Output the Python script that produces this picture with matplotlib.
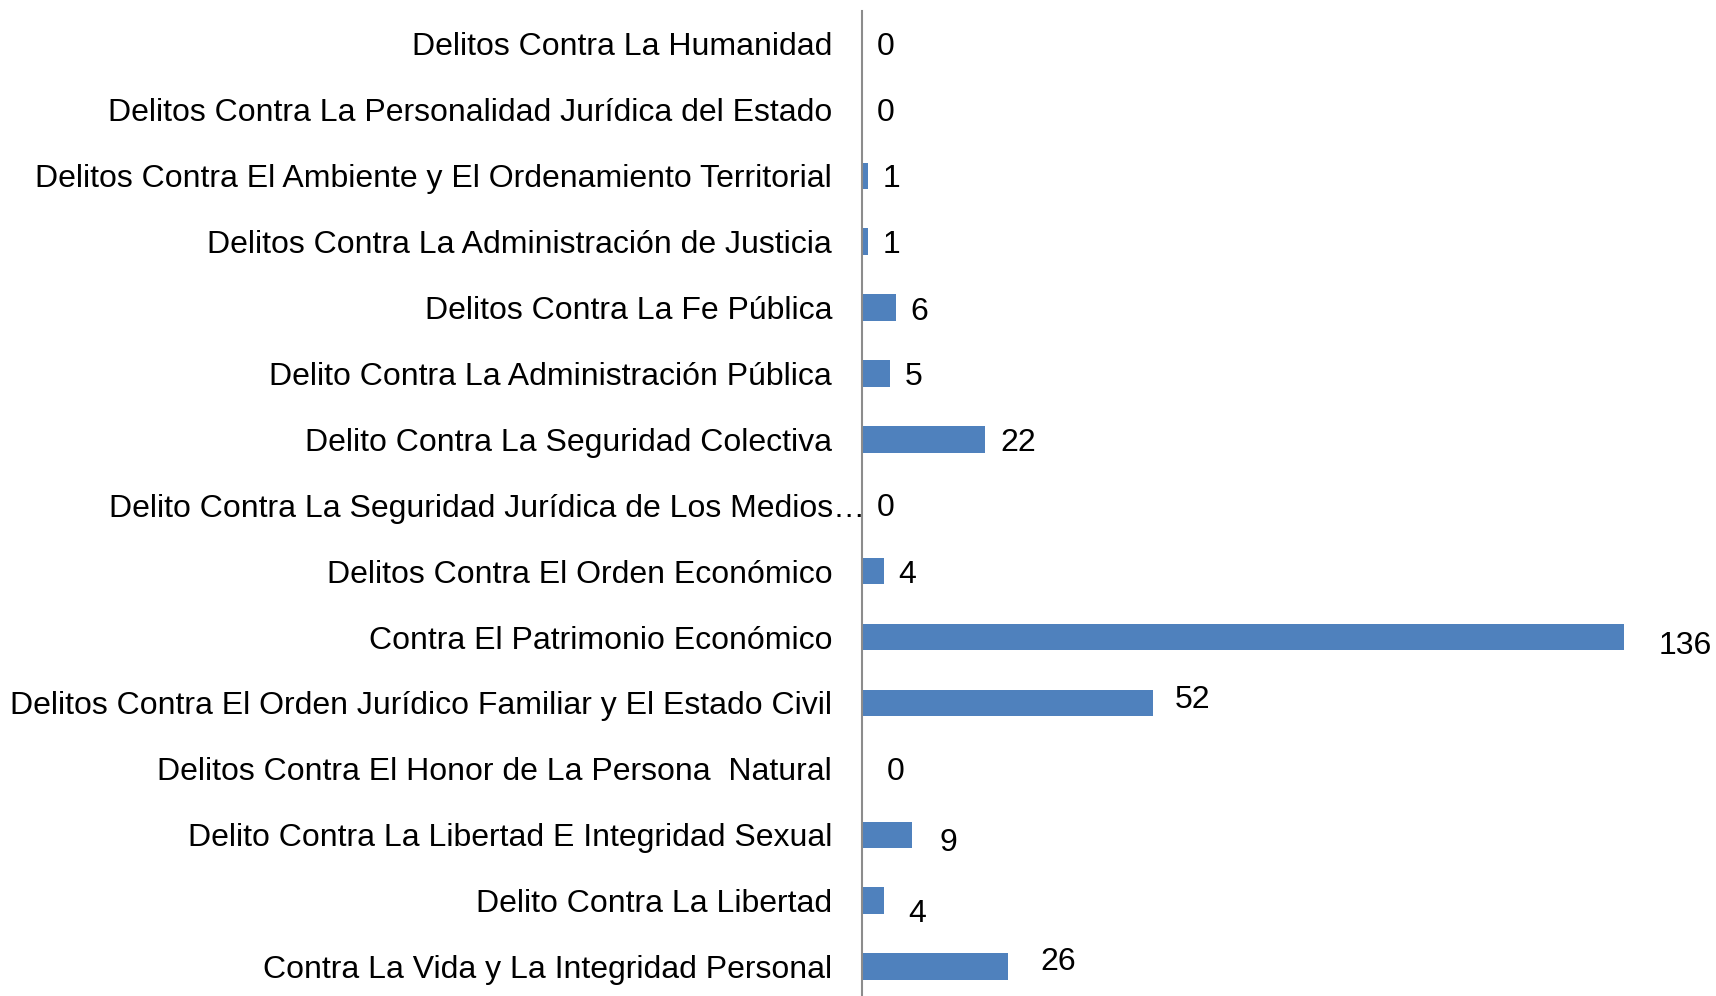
import matplotlib
matplotlib.use("Agg")
import matplotlib.pyplot as plt
import matplotlib.transforms as mtransforms

categories = [
    "Delitos Contra La Humanidad",
    "Delitos Contra La Personalidad Jurídica del Estado",
    "Delitos Contra El Ambiente y El Ordenamiento Territorial",
    "Delitos Contra La Administración de Justicia",
    "Delitos Contra La Fe Pública",
    "Delito Contra La Administración Pública",
    "Delito Contra La Seguridad Colectiva",
    "Delito Contra La Seguridad Jurídica de Los Medios…",
    "Delitos Contra El Orden Económico",
    "Contra El Patrimonio Económico",
    "Delitos Contra El Orden Jurídico Familiar y El Estado Civil",
    "Delitos Contra El Honor de La Persona  Natural",
    "Delito Contra La Libertad E Integridad Sexual",
    "Delito Contra La Libertad",
    "Contra La Vida y La Integridad Personal",
]
values = [0, 0, 1, 1, 6, 5, 22, 0, 4, 136, 52, 0, 9, 4, 26]

# label offsets in pixels (layout only)
label_dx = [15, 15, 15, 15, 15, 15, 15, 15, 14, 35, 21, 25, 27, 24, 33]
label_dy = [-3, -3, -3, -3, -4, -4, -4, -3, -4, -9, 3, -3, -8, -13, 5]

W, H = 1716, 996
FS = 23
fig = plt.figure(figsize=(W / 100, H / 100), dpi=100)
ax_left = 862 / W
ax_right = 1624 / W
ax_top = 1 - 11 / H
ax_bottom = (H - 999.5) / H
ax = fig.add_axes([ax_left, ax_bottom, ax_right - ax_left, ax_top - ax_bottom])

n = len(categories)
ypos = list(range(n))
ax.barh(ypos, values, height=0.4, color="#4F81BD")
ax.set_ylim(n - 0.5, -0.5)
ax.set_xlim(0, 136)
ax.set_yticks(ypos)
ax.set_yticklabels(categories, fontsize=FS, family="Liberation Sans")
ax.tick_params(axis="y", length=0, pad=21.5)
ax.set_xticks([])
for s in ["top", "right", "bottom"]:
    ax.spines[s].set_visible(False)
ax.spines["left"].set_color("#8C8C8C")
ax.spines["left"].set_linewidth(1.5)

# the truncated label runs up to the axis line in the reference
lbl = ax.get_yticklabels()[7]
lbl.set_transform(lbl.get_transform() + mtransforms.ScaledTranslation(33 / 100, 0, fig.dpi_scale_trans))

for i, v in enumerate(values):
    ax.annotate(str(v), xy=(v, i), xytext=(label_dx[i], label_dy[i]),
                textcoords="offset pixels", ha="left", va="center",
                fontsize=FS, family="Liberation Sans", clip_on=False)

fig.savefig("out.png", dpi=100)
